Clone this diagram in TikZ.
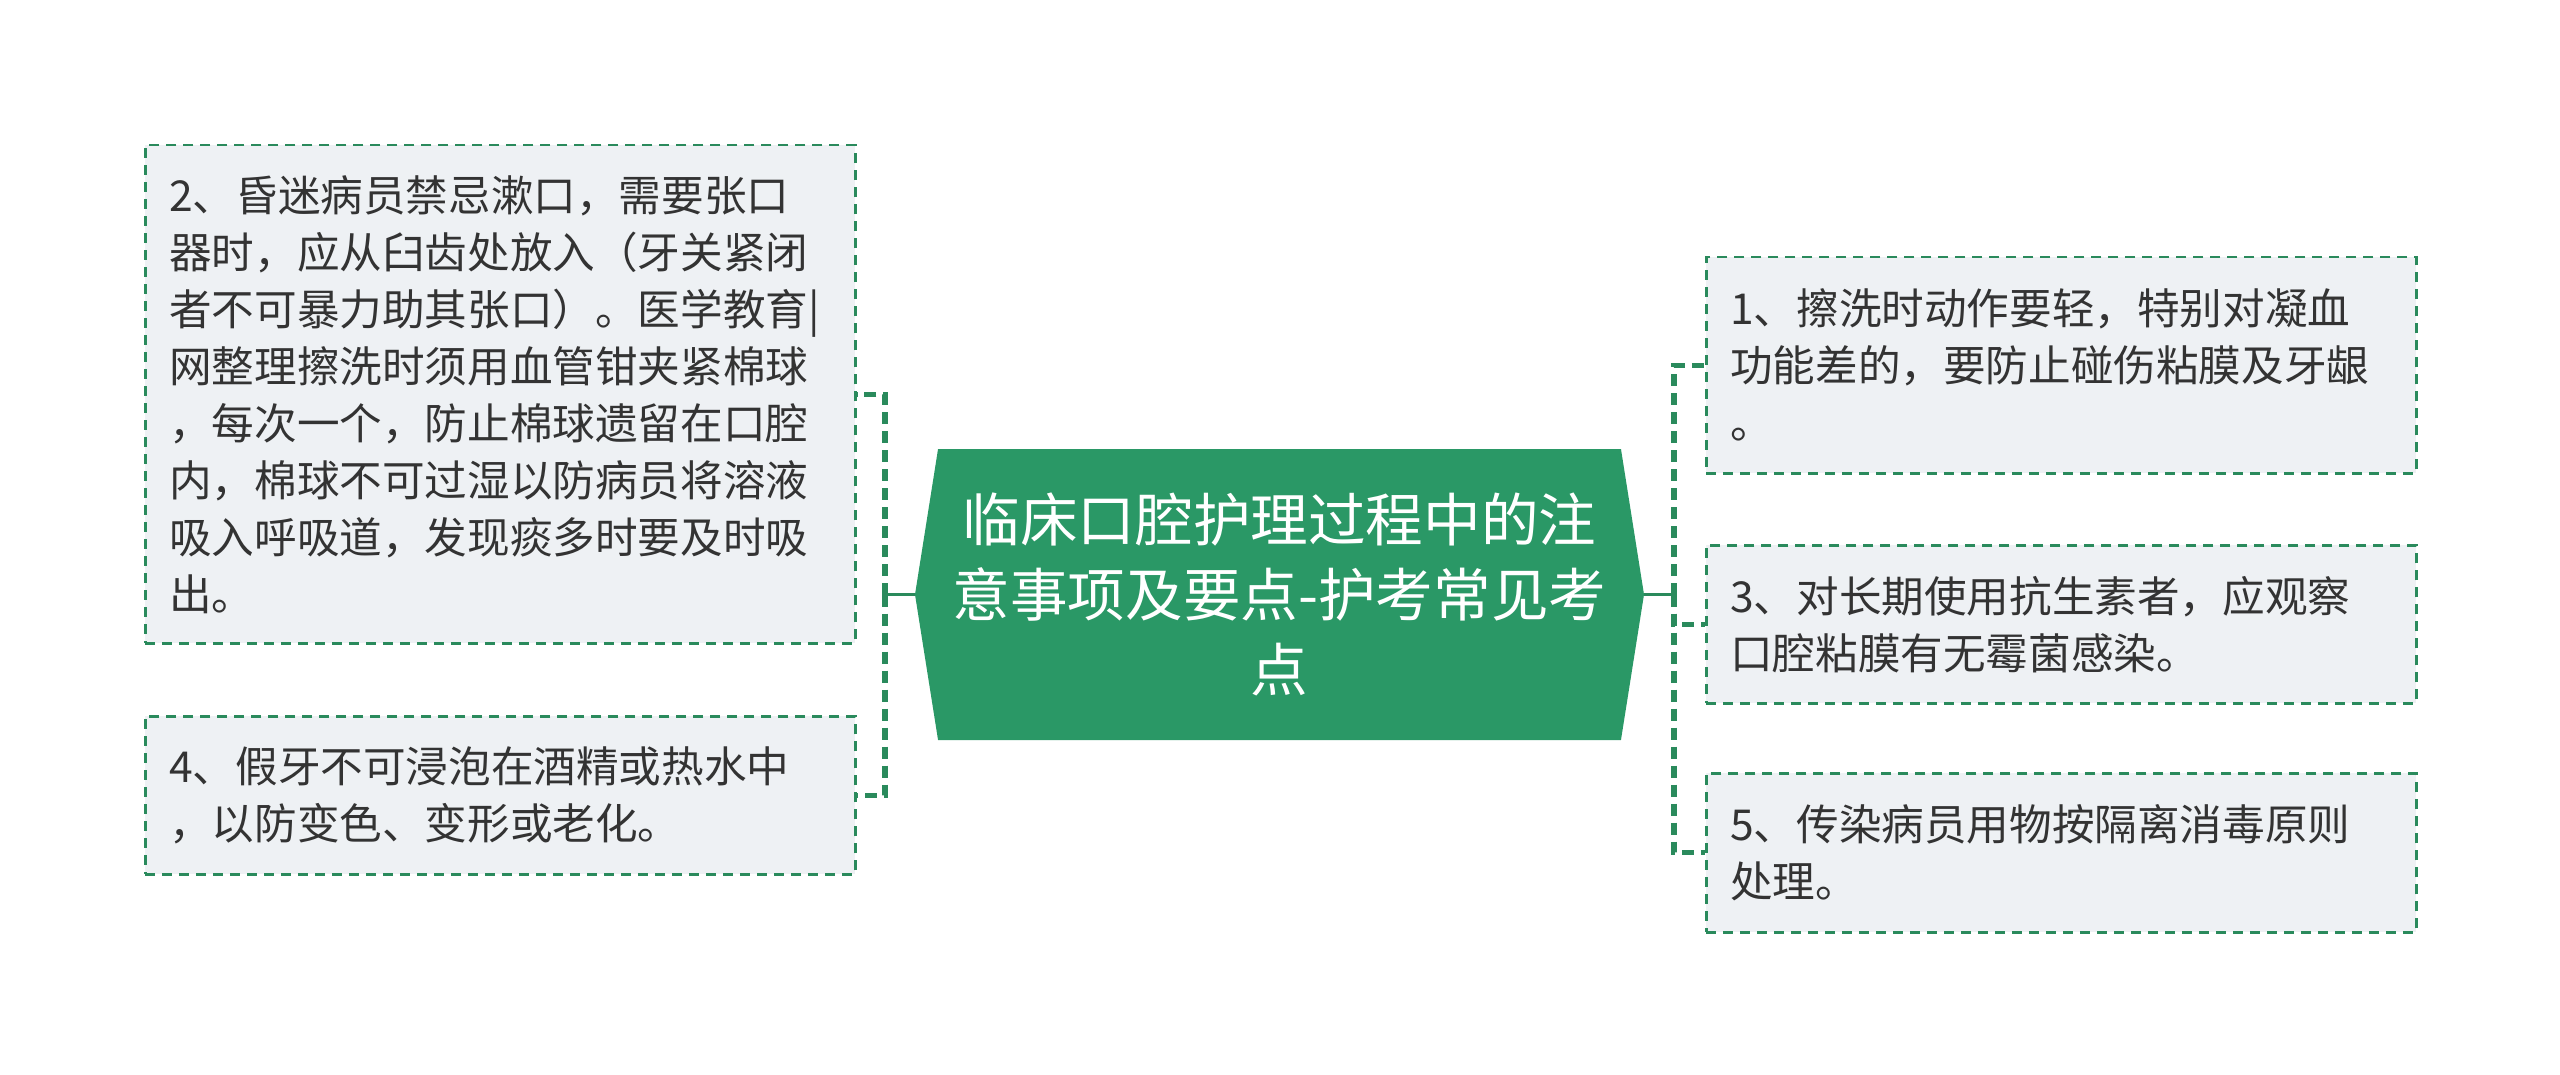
\documentclass[tikz,border=0pt]{standalone}
\usepackage{fontspec}
\setmainfont{Noto Sans CJK SC}
\usetikzlibrary{shapes.symbols}

\definecolor{topicgreen}{HTML}{2A9866}
\definecolor{linkgreen}{HTML}{2A8A5C}
\definecolor{leafgray}{HTML}{EEF1F4}
\definecolor{leaftext}{HTML}{333333}

\tikzset{
  topic/.style={shape=signal, signal from=nowhere, signal to=west and east, signal pointer angle=162,
    fill=topicgreen, text=white, align=center, inner sep=0pt,
    minimum width=364.5pt, minimum height=145.5pt,
    font=\fontsize{28.8}{37.5}\selectfont},
  leaf/.style={anchor=north west, draw=linkgreen, line width=1.25pt, dash pattern=on 5pt off 3.5pt,
    fill=leafgray, text=leaftext, align=left, text width=331pt,
    inner xsep=12pt, inner ysep=8pt, font=\fontsize{21.3}{28.5}\selectfont},
  trunk/.style={linkgreen, line width=1.8pt},
  branch/.style={linkgreen, line width=2.6pt, dash pattern=on 6pt off 3.5pt}
}

\begin{document}
\begin{tikzpicture}[x=0.5pt, y=-0.5pt]
    % 0. CORNICE (margini del riferimento)
    \useasboundingbox (0,0) rectangle (2560,1075);

    % 1. TEMA CENTRALE
    \node[topic] (topic) at (1279.5,594.5)
        {临床口腔护理过程中的注\\意事项及要点-护考常见考\\点};

    % 2. RAMI DI SINISTRA
    \node[leaf, minimum height=249pt] (leaf2) at (144,144)
        {2、昏迷病员禁忌漱口，需要张口\\器时，应从臼齿处放入（牙关紧闭\\者不可暴力助其张口）。医学教育|\\网整理擦洗时须用血管钳夹紧棉球\\，每次一个，防止棉球遗留在口腔\\内，棉球不可过湿以防病员将溶液\\吸入呼吸道，发现痰多时要及时吸\\出。};
    \node[leaf, minimum height=79pt] (leaf4) at (144,715)
        {4、假牙不可浸泡在酒精或热水中\\，以防变色、变形或老化。};

    \coordinate (ljoin) at (885,594.5);
    \draw[trunk] (topic.west) -- (ljoin);
    \draw[branch] (ljoin) |- (leaf2.east);
    \draw[branch] (ljoin) |- (leaf4.east);

    % 3. RAMI DI DESTRA
    \node[leaf, minimum height=108pt] (leaf1) at (1705,256)
        {1、擦洗时动作要轻，特别对凝血\\功能差的，要防止碰伤粘膜及牙龈\\。};
    \node[leaf, minimum height=79pt] (leaf3) at (1705,544)
        {3、对长期使用抗生素者，应观察\\口腔粘膜有无霉菌感染。};
    \node[leaf, minimum height=79.5pt] (leaf5) at (1705,772)
        {5、传染病员用物按隔离消毒原则\\处理。};

    \coordinate (rjoin) at (1674,594.5);
    \draw[trunk] (topic.east) -- (rjoin);
    \draw[branch] (rjoin) |- (leaf1.west);
    \draw[branch] (rjoin) |- (leaf3.west);
    \draw[branch] (rjoin) |- (leaf5.west);

\end{tikzpicture}
\end{document}
